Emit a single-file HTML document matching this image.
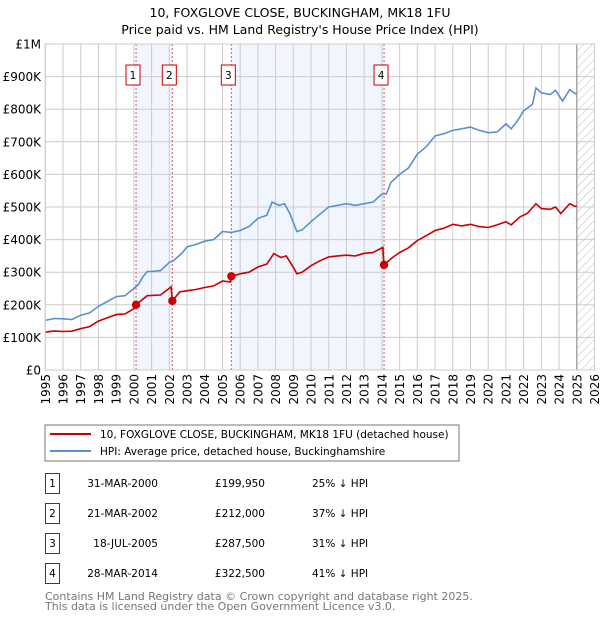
<!DOCTYPE html>
<html><head><meta charset="utf-8"><style>
body{margin:0;background:#fff;font-family:"DejaVu Sans","Liberation Sans",sans-serif;}
svg text{font-family:"DejaVu Sans","Liberation Sans",sans-serif;}
</style></head><body>
<svg id="chart" width="600" height="620" xmlns="http://www.w3.org/2000/svg">
<text x="300" y="17" text-anchor="middle" font-size="12.5">10, FOXGLOVE CLOSE, BUCKINGHAM, MK18 1FU</text>
<text x="300" y="34" text-anchor="middle" font-size="12.5">Price paid vs. HM Land Registry's House Price Index (HPI)</text>
<defs><pattern id="hatch" width="6" height="6" patternUnits="userSpaceOnUse" patternTransform="rotate(45)"><line x1="0" y1="0" x2="0" y2="6" stroke="#bbb" stroke-width="1"/></pattern></defs>
<g id="plot"></g>
<rect x="45" y="425" width="414" height="36" fill="#fff" stroke="#777"/>
<line x1="50" y1="434" x2="91" y2="434" stroke="#cc0000" stroke-width="2"/>
<text x="100" y="438" font-size="10.5">10, FOXGLOVE CLOSE, BUCKINGHAM, MK18 1FU (detached house)</text>
<line x1="50" y1="451" x2="91" y2="451" stroke="#5b8fd4" stroke-width="2"/>
<text x="100" y="455" font-size="10.5">HPI: Average price, detached house, Buckinghamshire</text>
<g id="table" font-size="10.5"></g>
<text x="45" y="600" font-size="11" fill="#777">Contains HM Land Registry data © Crown copyright and database right 2025.</text>
<text x="45" y="610" font-size="11" fill="#777">This data is licensed under the Open Government Licence v3.0.</text>
</svg>
<script>
const hpiYears=[1995,1995.5,1996,1996.5,1997,1997.5,1998,1998.5,1999,1999.5,2000,2000.25,2000.5,2000.75,2001,2001.5,2002,2002.25,2002.75,2003,2003.5,2004,2004.5,2005,2005.5,2006,2006.5,2007,2007.5,2007.8,2008.2,2008.5,2008.8,2009.2,2009.5,2010,2010.5,2011,2011.5,2012,2012.5,2013,2013.5,2014,2014.25,2014.5,2015,2015.5,2016,2016.5,2017,2017.5,2018,2018.5,2019,2019.5,2020,2020.5,2021,2021.3,2021.7,2022,2022.5,2022.7,2023,2023.5,2023.8,2024.2,2024.6,2024.9,2025];
const hpiValues=[152,158,157,155,168,175,195,210,225,228,250,262,285,302,302,305,330,336,360,378,385,395,400,425,422,428,440,465,475,515,505,510,480,425,430,455,478,500,505,510,505,510,515,540,540,575,600,620,662,685,718,725,735,740,745,735,728,730,755,740,768,795,815,865,850,845,858,825,860,848,848];
const propYears=[1995,1995.5,1996,1996.5,1997,1997.5,1998,1998.5,1999,1999.5,2000,2000.12,2000.75,2001.5,2002.1,2002.17,2002.6,2003.5,2004,2004.5,2005,2005.45,2005.5,2006,2006.5,2007,2007.5,2007.9,2008.3,2008.6,2009,2009.2,2009.5,2010,2010.5,2011,2011.5,2012,2012.5,2013,2013.5,2014.05,2014.12,2014.6,2015,2015.5,2016,2016.5,2017,2017.5,2018,2018.5,2019,2019.5,2020,2020.5,2021,2021.3,2021.8,2022.2,2022.7,2023,2023.5,2023.8,2024.1,2024.6,2024.9,2025];
const propValues=[116,120,118,119,127,133,150,160,170,172,188,200,228,230,255,212,240,247,253,258,273,270,287.5,295,300,316,325,357,345,350,315,295,300,320,335,347,350,352,350,358,360,376,322.5,345,360,375,397,412,428,435,447,442,447,440,437,445,455,445,470,480,510,495,493,500,480,510,502,502];
const saleLabels=["1","2","3","4"];
const saleYears=[2000.12,2002.17,2005.5,2014.12];
const salePrices=[199950,212000,287500,322500];
const saleDates=["31-MAR-2000","21-MAR-2002","18-JUL-2005","28-MAR-2014"];
const salePriceText=["£199,950","£212,000","£287,500","£322,500"];
const saleDiff=["25% ↓ HPI","37% ↓ HPI","31% ↓ HPI","41% ↓ HPI"];
const yTicks=[0,100,200,300,400,500,600,700,800,900,1000];
const yTickLabels=["£0","£100K","£200K","£300K","£400K","£500K","£600K","£700K","£800K","£900K","£1M"];
const xTicks=[1995,1996,1997,1998,1999,2000,2001,2002,2003,2004,2005,2006,2007,2008,2009,2010,2011,2012,2013,2014,2015,2016,2017,2018,2019,2020,2021,2022,2023,2024,2025,2026];

const X0=45.3,X1=594.5,Y0=370,Y1=44;
const xs=y=>X0+(y-1995)/(2026-1995)*(X1-X0);
const ys=v=>Y0-v/1000*(Y0-Y1);
const NS="http://www.w3.org/2000/svg";
const plot=document.getElementById('plot');
function mk(tag,attrs,parent){const e=document.createElementNS(NS,tag);for(const k in attrs)e.setAttribute(k,attrs[k]);(parent||plot).appendChild(e);return e;}

let r=mk('rect',{x:xs(saleYears[0]),y:Y1,width:xs(saleYears[1])-xs(saleYears[0]),height:Y0-Y1,fill:'#eef3fc',opacity:0.8});


r=mk('rect',{x:xs(saleYears[2]),y:Y1,width:xs(saleYears[3])-xs(saleYears[2]),height:Y0-Y1,fill:'#eef3fc',opacity:0.8});


r=mk('rect',{x:xs(2025),y:Y1,width:X1-xs(2025),height:Y0-Y1,fill:'url(#hatch)'});



yTicks.forEach((t,i)=>{
 const l=mk('line',{x1:X0,x2:X1,y1:ys(t),y2:ys(t),stroke:'#ccc','stroke-width':1});
 
 
 const tx=mk('text',{x:41,y:ys(t)+4.5,'text-anchor':'end','font-size':12});
 tx.textContent=yTickLabels[i];
 
 
});
xTicks.forEach(t=>{
 const l=mk('line',{x1:xs(t),x2:xs(t),y1:Y1,y2:Y0,stroke:'#ccc','stroke-width':1});
 
 
 const tx=mk('text',{x:0,y:0,'text-anchor':'end','font-size':12,transform:`translate(${xs(t)+4.5},374) rotate(-90)`});
 tx.textContent=t;
 
 
});
let vl=mk('line',{x1:xs(2025),x2:xs(2025),y1:Y1,y2:Y0,stroke:'#999','stroke-width':1.2});



saleYears.forEach((y,i)=>{
 const l=mk('line',{x1:xs(y),x2:xs(y),y1:Y1,y2:Y0,stroke:'#e05555','stroke-width':1,'stroke-dasharray':'2,2'});
 
 
 const b=mk('rect',{x:xs(y)-10,y:65,width:14,height:20,fill:'#fff',stroke:'#cc0000','stroke-width':1});
 
 
 const t=mk('text',{x:xs(y)-3,y:79,'text-anchor':'middle','font-size':10.5});
 t.textContent=saleLabels[i];
 
 
});

const pts=(ys_,vs)=>ys_.map((y,i)=>xs(y).toFixed(1)+','+ys(vs[i]).toFixed(1)).join(' ');
let p=mk('polyline',{points:pts(hpiYears,hpiValues),fill:'none',stroke:'#5b8fd4','stroke-width':1.6});


p=mk('polyline',{points:pts(propYears,propValues),fill:'none',stroke:'#cc0000','stroke-width':1.6});


saleYears.forEach((y,i)=>{
 const c=mk('circle',{cx:xs(y),cy:ys(salePrices[i]/1000),r:4.2,fill:'#cc0000'});
 
 
});
let ax=mk('rect',{x:X0,y:Y1,width:X1-X0,height:Y0-Y1,fill:'none',stroke:'#ccc'});



const tbl=document.getElementById('table');
saleLabels.forEach((s,i)=>{
 const cy=483+i*30;
 const b=mk('rect',{x:45.5,y:cy-9.5,width:14,height:20,fill:'#fff',stroke:'#cc0000'},tbl);
 
 
 const cells=[[52.5,s,'middle'],[158,saleDates[i],'end'],[265,salePriceText[i],'end'],[312,saleDiff[i],'start']];
 cells.forEach(c=>{
  const t=mk('text',{x:c[0],y:cy+4,'text-anchor':c[2]},tbl);
  t.textContent=c[1];
  
  
 });
});
</script>
</body></html>
